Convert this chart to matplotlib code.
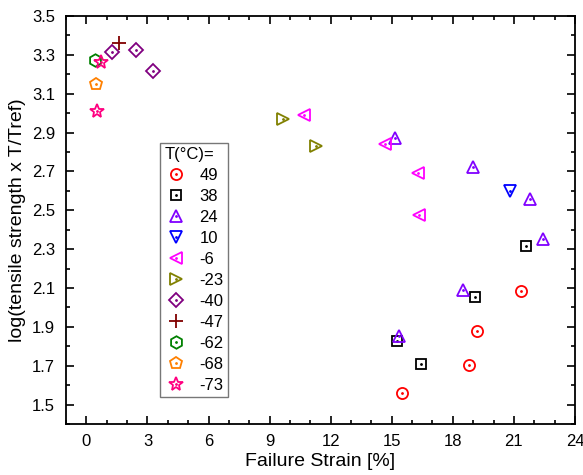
import matplotlib.pyplot as plt
from matplotlib.legend_handler import HandlerTuple
from matplotlib.ticker import MultipleLocator

plt.rcParams['font.family'] = ['Liberation Sans', 'DejaVu Sans']

# temperatures (legend labels)
temps = ["49", "38", "24", "10", "-6", "-23", "-40", "-47", "-62", "-68", "-73"]

# failure strain [%] per temperature
strain = {
    "49":  [21.33, 19.20, 18.79, 15.51],
    "38":  [21.58, 19.08, 15.26, 16.43],
    "24":  [15.18, 18.97, 21.79, 22.45, 18.51, 15.38],
    "10":  [20.81],
    "-6":  [10.71, 14.69, 16.28, 16.35],
    "-23": [9.65, 11.29],
    "-40": [1.26, 2.46, 3.26],
    "-47": [1.61],
    "-62": [0.41],
    "-68": [0.49],
    "-73": [0.74, 0.52],
}
# log(tensile strength x T/Tref)
logstr = {
    "49":  [2.086, 1.880, 1.702, 1.558],
    "38":  [2.314, 2.054, 1.829, 1.709],
    "24":  [2.871, 2.722, 2.559, 2.353, 2.088, 1.851],
    "10":  [2.597],
    "-6":  [2.989, 2.840, 2.691, 2.478],
    "-23": [2.969, 2.832],
    "-40": [3.313, 3.324, 3.216],
    "-47": [3.363],
    "-62": [3.274],
    "-68": [3.149],
    "-73": [3.262, 3.013],
}

markers = ["o", "s", "^", "v", "<", ">", "D", "+", "h", "p", "*"]
colors = ["#ff0000", "#000000", "#8000ff", "#0000ff", "#ff00ff", "#808000",
          "#800080", "#800000", "#008000", "#ff8000", "#ff0080"]
sizes = [8, 7, 9, 9, 9, 9, 7, 10, 9, 9, 10]

fig = plt.figure(figsize=(5.83, 4.75), dpi=100)
ax = fig.add_axes([66/583, 1-424/475, 509/583, 408/475])

handles = []
for t, m, c, s in zip(temps, markers, colors, sizes):
    h1, = ax.plot(strain[t], logstr[t], linestyle="none", marker=m, markersize=s,
                  markerfacecolor="none", markeredgecolor=c, markeredgewidth=1.3)
    if m == "+":
        handles.append(h1)
        continue
    h2, = ax.plot(strain[t], logstr[t], linestyle="none", marker=".", markersize=2,
                  color=c)
    handles.append((h1, h2))

ax.set_xlim(-1, 24)
ax.set_ylim(1.4, 3.5)
ax.xaxis.set_major_locator(MultipleLocator(3))
ax.xaxis.set_minor_locator(MultipleLocator(1))
ax.yaxis.set_minor_locator(MultipleLocator(0.1))
ax.set_yticks([1.5, 1.7, 1.9, 2.1, 2.3, 2.5, 2.7, 2.9, 3.1, 3.3, 3.5])
ax.tick_params(which="both", direction="in", top=True, right=True, width=1.2)
ax.tick_params(which="major", length=6, labelsize=12)
ax.tick_params(which="minor", length=3)
ax.tick_params(axis="y", which="major", pad=8)
ax.tick_params(axis="x", which="major", pad=7)
for sp in ax.spines.values():
    sp.set_linewidth(1.3)

ax.set_xlabel("Failure Strain [%]", fontsize=14, labelpad=3)
ax.set_ylabel("log(tensile strength x T/Tref)", fontsize=14, labelpad=4)

leg = ax.legend(handles, temps, title="T(°C)=", loc="upper left",
                bbox_to_anchor=(0.185, 0.689), borderaxespad=0, fontsize=12,
                title_fontsize=12, alignment="left", fancybox=False,
                edgecolor="#777777", framealpha=1, handlelength=1.4,
                handletextpad=0.7, labelspacing=0.36, borderpad=0.25,
                handler_map={tuple: HandlerTuple(ndivide=1, pad=0)})
leg.get_frame().set_linewidth(1.0)

fig.savefig("out.png", dpi=100)
